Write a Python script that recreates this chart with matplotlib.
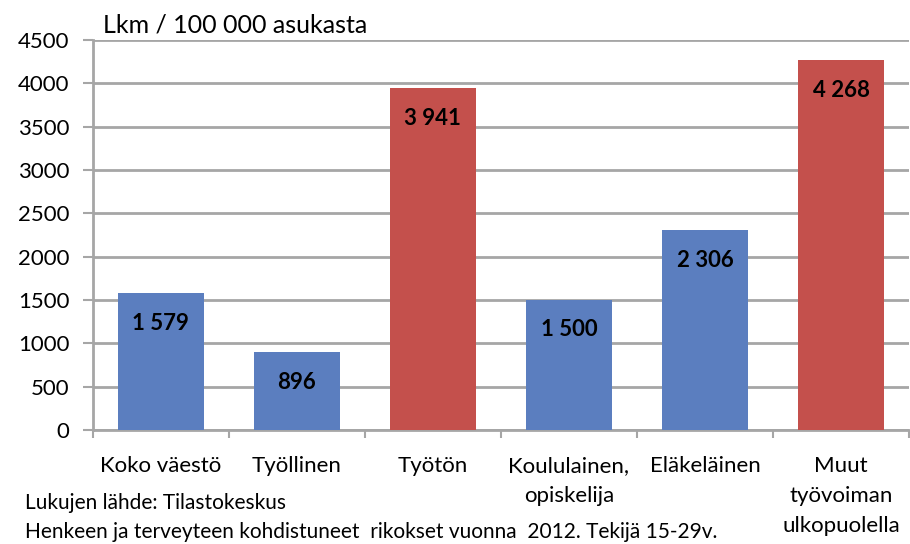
import matplotlib
matplotlib.use('Agg')
import matplotlib.pyplot as plt

categories = ['Koko väestö', 'Työllinen', 'Työtön', 'Koululainen,\nopiskelija',
              'Eläkeläinen', 'Muut\ntyövoiman\nulkopuolella']
values = [1579, 896, 3941, 1500, 2306, 4268]
value_labels = ['1 579', '896', '3 941', '1 500', '2 306', '4 268']
highlight = [False, False, True, False, False, True]
yticks = [0, 500, 1000, 1500, 2000, 2500, 3000, 3500, 4000, 4500]

BLUE = '#5B7EBF'
RED = '#C4504C'
GRID = '#A6A6A6'


def main():
    plt.rcParams['font.family'] = ['Lato', 'DejaVu Sans']

    fig = plt.figure(figsize=(9.1, 5.44), dpi=100)
    ax = fig.add_axes([0.102, 0.2096, 0.897, 0.7168])

    x = list(range(len(categories)))
    colors = [RED if h else BLUE for h in highlight]
    bars = ax.bar(x, values, width=0.63, color=colors, zorder=3)

    for b, lab in zip(bars, value_labels):
        ax.annotate(lab, (b.get_x() + b.get_width() / 2, b.get_height()),
                    xytext=(0, -21.5), textcoords='offset points',
                    ha='center', va='center', fontsize=16,
                    fontweight='bold', zorder=4)

    ax.set_xlim(-0.5, len(categories) - 0.5)
    ax.set_ylim(0, 4500)
    ax.set_yticks(yticks)
    ax.set_yticklabels([str(t) for t in yticks], fontsize=16)
    ax.yaxis.grid(True, color=GRID, linewidth=2, zorder=0)

    # category ticks sit between the bars
    ax.set_xticks([i - 0.5 for i in range(len(categories) + 1)])
    ax.set_xticklabels([])
    ax.tick_params(axis='x', length=6, width=1.5, color=GRID)
    ax.tick_params(axis='y', length=7, width=1.5, color=GRID, pad=10)
    for i, c in enumerate(categories):
        ax.text(i, -0.066, c, transform=ax.get_xaxis_transform(),
                ha='center', va='top', fontsize=16, linespacing=1.62)

    for s in ['top', 'right']:
        ax.spines[s].set_visible(False)
    for s in ['left', 'bottom']:
        ax.spines[s].set_color(GRID)
        ax.spines[s].set_linewidth(2)

    fig.text(0.113, 0.954, 'Lkm / 100 000 asukasta', fontsize=18, va='center')
    fig.text(0.028, 0.075, 'Lukujen lähde: Tilastokeskus', fontsize=15, va='center')
    fig.text(0.028, 0.022, 'Henkeen ja terveyteen kohdistuneet  rikokset vuonna  2012. Tekijä 15-29v.',
             fontsize=15, va='center')

    fig.savefig('out.png', dpi=100)


if __name__ == '__main__':
    main()
